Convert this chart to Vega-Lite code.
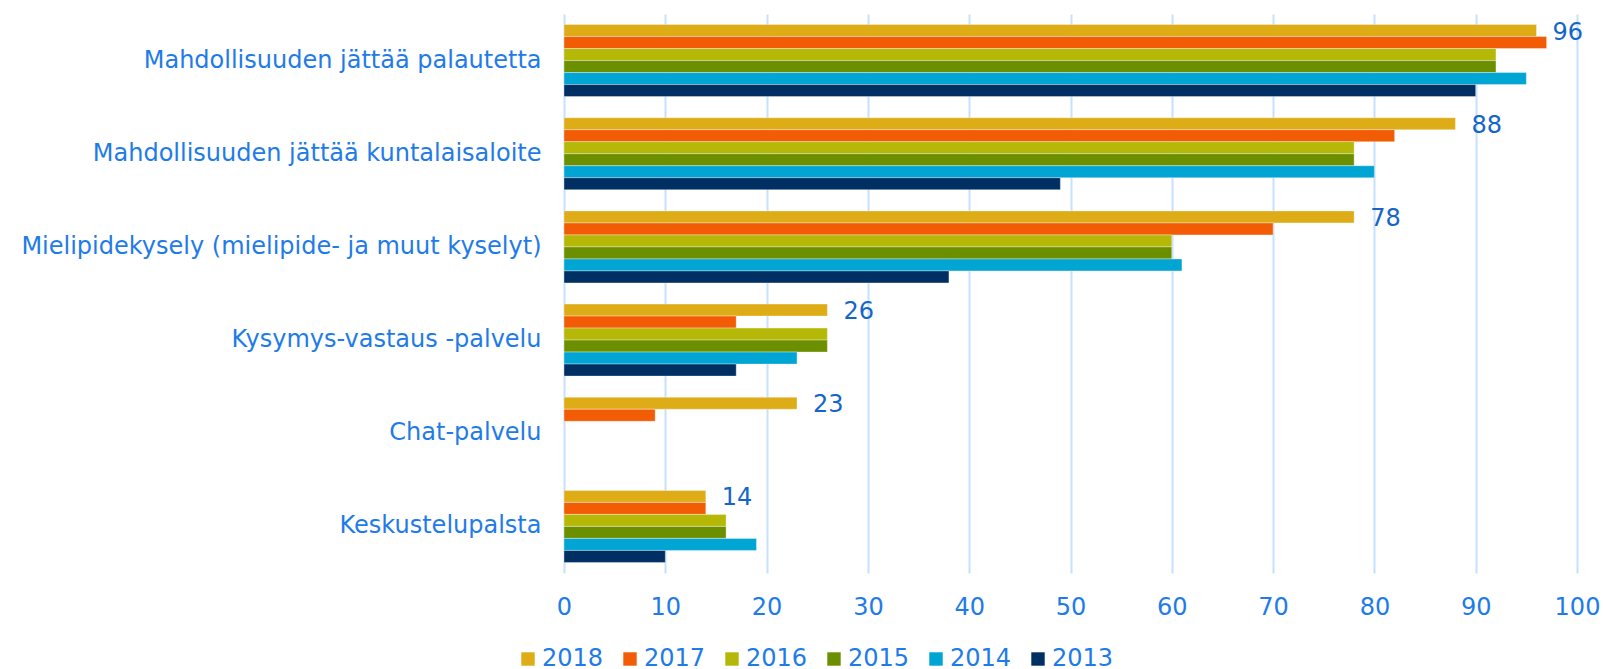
{
  "$schema": "https://vega.github.io/schema/vega-lite/v6.json",
  "autosize": {"type": "none"},
  "width": 1013,
  "height": 559,
  "padding": {"left": 564, "top": 14, "right": 26, "bottom": 96},
  "background": "white",
  "config": {
    "view": {"stroke": null},
    "font": "DejaVu Sans"
  },
  "data": {
    "values": [
      {"kategoria": "Mahdollisuuden jättää palautetta", "vuosi": "2018", "arvo": 96},
      {"kategoria": "Mahdollisuuden jättää palautetta", "vuosi": "2017", "arvo": 97},
      {"kategoria": "Mahdollisuuden jättää palautetta", "vuosi": "2016", "arvo": 92},
      {"kategoria": "Mahdollisuuden jättää palautetta", "vuosi": "2015", "arvo": 92},
      {"kategoria": "Mahdollisuuden jättää palautetta", "vuosi": "2014", "arvo": 95},
      {"kategoria": "Mahdollisuuden jättää palautetta", "vuosi": "2013", "arvo": 90},
      {"kategoria": "Mahdollisuuden jättää kuntalaisaloite", "vuosi": "2018", "arvo": 88},
      {"kategoria": "Mahdollisuuden jättää kuntalaisaloite", "vuosi": "2017", "arvo": 82},
      {"kategoria": "Mahdollisuuden jättää kuntalaisaloite", "vuosi": "2016", "arvo": 78},
      {"kategoria": "Mahdollisuuden jättää kuntalaisaloite", "vuosi": "2015", "arvo": 78},
      {"kategoria": "Mahdollisuuden jättää kuntalaisaloite", "vuosi": "2014", "arvo": 80},
      {"kategoria": "Mahdollisuuden jättää kuntalaisaloite", "vuosi": "2013", "arvo": 49},
      {"kategoria": "Mielipidekysely (mielipide- ja muut kyselyt)", "vuosi": "2018", "arvo": 78},
      {"kategoria": "Mielipidekysely (mielipide- ja muut kyselyt)", "vuosi": "2017", "arvo": 70},
      {"kategoria": "Mielipidekysely (mielipide- ja muut kyselyt)", "vuosi": "2016", "arvo": 60},
      {"kategoria": "Mielipidekysely (mielipide- ja muut kyselyt)", "vuosi": "2015", "arvo": 60},
      {"kategoria": "Mielipidekysely (mielipide- ja muut kyselyt)", "vuosi": "2014", "arvo": 61},
      {"kategoria": "Mielipidekysely (mielipide- ja muut kyselyt)", "vuosi": "2013", "arvo": 38},
      {"kategoria": "Kysymys-vastaus -palvelu", "vuosi": "2018", "arvo": 26},
      {"kategoria": "Kysymys-vastaus -palvelu", "vuosi": "2017", "arvo": 17},
      {"kategoria": "Kysymys-vastaus -palvelu", "vuosi": "2016", "arvo": 26},
      {"kategoria": "Kysymys-vastaus -palvelu", "vuosi": "2015", "arvo": 26},
      {"kategoria": "Kysymys-vastaus -palvelu", "vuosi": "2014", "arvo": 23},
      {"kategoria": "Kysymys-vastaus -palvelu", "vuosi": "2013", "arvo": 17},
      {"kategoria": "Chat-palvelu", "vuosi": "2018", "arvo": 23},
      {"kategoria": "Chat-palvelu", "vuosi": "2017", "arvo": 9},
      {"kategoria": "Keskustelupalsta", "vuosi": "2018", "arvo": 14},
      {"kategoria": "Keskustelupalsta", "vuosi": "2017", "arvo": 14},
      {"kategoria": "Keskustelupalsta", "vuosi": "2016", "arvo": 16},
      {"kategoria": "Keskustelupalsta", "vuosi": "2015", "arvo": 16},
      {"kategoria": "Keskustelupalsta", "vuosi": "2014", "arvo": 19},
      {"kategoria": "Keskustelupalsta", "vuosi": "2013", "arvo": 10}
    ]
  },
  "encoding": {
    "y": {
      "field": "kategoria",
      "type": "nominal",
      "sort": null,
      "scale": {"paddingInner": 0.227, "paddingOuter": 0.1135},
      "axis": {
        "title": null,
        "domain": false,
        "ticks": false,
        "labelPadding": 23,
        "labelFontSize": 24,
        "labelColor": "#1E7BE8",
        "labelFont": "DejaVu Sans",
        "labelLimit": 700
      }
    },
    "yOffset": {
      "field": "vuosi",
      "type": "nominal",
      "sort": ["2018", "2017", "2016", "2015", "2014", "2013"],
      "scale": {"domain": ["2018", "2017", "2016", "2015", "2014", "2013"], "paddingInner": 0, "paddingOuter": 0}
    },
    "x": {
      "field": "arvo",
      "type": "quantitative",
      "scale": {"domain": [0, 100], "nice": false},
      "axis": {
        "title": null,
        "values": [0, 10, 20, 30, 40, 50, 60, 70, 80, 90, 100],
        "domain": false,
        "ticks": false,
        "grid": true,
        "gridColor": "#C6E0FF",
        "gridWidth": 2,
        "labelPadding": 22,
        "labelFontSize": 24,
        "labelColor": "#1E7BE8",
        "labelFont": "DejaVu Sans",
        "labelFlush": false
      }
    }
  },
  "layer": [
    {
      "mark": {"type": "bar", "stroke": "#ffffff", "strokeOpacity": 0.35, "strokeWidth": 1},
      "encoding": {
        "color": {
          "field": "vuosi",
          "type": "nominal",
          "scale": {
            "domain": ["2018", "2017", "2016", "2015", "2014", "2013"],
            "range": ["#DEAC17", "#F25C05", "#B5B806", "#6C8F00", "#00A5D4", "#002F63"]
          },
          "legend": {
            "title": null,
            "orient": "none",
            "direction": "horizontal",
            "columns": 6,
            "legendX": -48,
            "legendY": 633,
            "symbolType": "square",
            "symbolSize": 180,
            "symbolStrokeWidth": 0,
            "labelFontSize": 24,
            "labelColor": "#1E7BE8",
            "labelFont": "DejaVu Sans",
            "labelOffset": 2,
            "columnPadding": 14
          }
        }
      }
    },
    {
      "transform": [{"filter": "datum.vuosi == '2018'"}],
      "mark": {
        "type": "text",
        "align": "left",
        "baseline": "middle",
        "dx": 16,
        "dy": 2,
        "fontSize": 24,
        "font": "DejaVu Sans",
        "color": "#1565C8"
      },
      "encoding": {
        "text": {"field": "arvo", "type": "quantitative"}
      }
    }
  ]
}
